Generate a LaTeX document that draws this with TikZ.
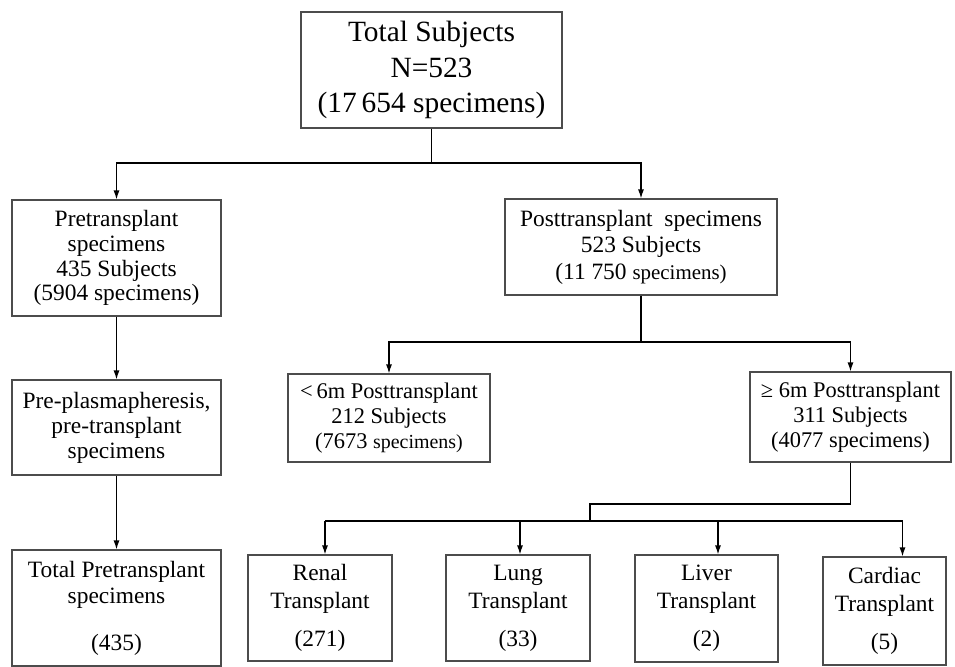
\documentclass[tikz,border=0pt]{standalone}
\usepackage{fontspec}
\setmainfont{Liberation Serif}
\usetikzlibrary{arrows.meta}

\tikzset{
  box/.style={draw=black!70, line width=1.1bp, rectangle, align=center, inner sep=0pt,
              font=\fontsize{23.5}{25}\selectfont},
  link/.style={line width=1.2bp},
  arrowlink/.style={link, -{Latex[length=9bp,width=6bp]}}
}

\begin{document}
\begin{tikzpicture}[x=1bp, y=-1bp]
  \useasboundingbox (0,0) rectangle (955,667);

  \node (total) at (431.5, 70) [box, minimum width=261bp, minimum height=116bp,
        font=\fontsize{29.5}{35.5}\selectfont] {Total Subjects\\N=523\\(17\,654 specimens)};

  \node (pre) at (116.5, 258) [box, minimum width=209bp, minimum height=116bp]
        {Pretransplant\\specimens\\435 Subjects\\(5904 specimens)};
  \node (post) at (641, 247) [box, minimum width=272bp, minimum height=96bp,
        font=\fontsize{23.5}{26.5}\selectfont]
        {Posttransplant\ \ specimens\\523 Subjects\\(11 750 {\fontsize{21}{26.5}\selectfont specimens)}};

  \node (plasma) at (116.5, 427.5) [box, minimum width=209bp, minimum height=95bp]
        {Pre-plasmapheresis,\\pre-transplant\\specimens};
  \node (less) at (389, 418) [box, minimum width=202bp, minimum height=88bp,
        font=\fontsize{22.5}{25}\selectfont]
        {<\,6m Posttransplant\\212 Subjects\\(7673 {\fontsize{20}{25}\selectfont specimens)}};
  \node (more) at (850.5, 417) [box, minimum width=201bp, minimum height=90bp,
        font=\fontsize{22.5}{25}\selectfont]
        {≥ 6m Posttransplant\\311 Subjects\\(4077 specimens)};

  \node (totpre) at (116.5, 608) [box, minimum width=209bp, minimum height=116bp,
        font=\fontsize{23.5}{26}\selectfont]
        {Total Pretransplant\\specimens\\[21bp](435)};
  \node (renal) at (320, 608) [box, minimum width=144bp, minimum height=106bp,
        font=\fontsize{23.5}{28}\selectfont]
        {Renal\\Transplant\\[10bp](271)};
  \node (lung) at (518, 608) [box, minimum width=144bp, minimum height=106bp,
        font=\fontsize{23.5}{28}\selectfont]
        {Lung\\Transplant\\[10bp](33)};
  \node (liver) at (706.5, 608.5) [box, minimum width=143bp, minimum height=107bp,
        font=\fontsize{23.5}{28}\selectfont]
        {Liver\\Transplant\\[10bp](2)};
  \node (cardiac) at (884.5, 611) [box, minimum width=123bp, minimum height=108bp,
        font=\fontsize{23.5}{28}\selectfont]
        {Cardiac\\Transplant\\[10bp](5)};

  % first split
  \coordinate (bus1) at (431.5, 163);
  \draw[link] (total.south) -- (bus1);
  \draw[arrowlink] (bus1) -| (pre.north);
  \draw[arrowlink] (bus1) -| (post.north);

  % left column
  \draw[arrowlink] (pre.south) -- (plasma.north);
  \draw[arrowlink] (plasma.south) -- (totpre.north);

  % posttransplant split
  \coordinate (bus2) at (641, 342);
  \draw[link] (post.south) -- (bus2);
  \draw[arrowlink] (bus2) -| (less.north);
  \draw[arrowlink] (bus2) -| (more.north);

  % organ split
  \coordinate (elbow) at (590, 504);
  \coordinate (bus3) at (590, 521);
  \draw[link] (more.south) |- (elbow) -- (bus3);
  \draw[link] ([xshift=5bp]renal.north |- bus3) -- ([xshift=18bp]cardiac.north |- bus3);
  \foreach \organ/\dx in {renal/5, lung/2, liver/11.5, cardiac/18}
    \draw[arrowlink] ([xshift=\dx bp]\organ.north |- bus3) -- ([xshift=\dx bp]\organ.north);
\end{tikzpicture}
\end{document}
